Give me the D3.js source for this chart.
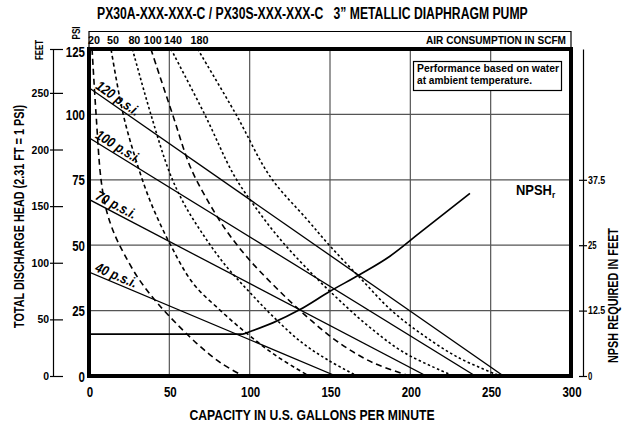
<!DOCTYPE html>
<html lang="en">
<head>
<meta charset="UTF-8">
<title>PX30 3" Metallic Diaphragm Pump</title>
<style>
    body { margin: 0; background: #fff; }
    svg text { font-family: "Liberation Sans Narrow", "Arial Narrow", "Liberation Sans", Arial, sans-serif; font-weight: bold; fill: #000; }
</style>
</head>
<body>
<svg id="chart" width="627" height="423"></svg>
<script src="https://d3js.org/d3.v7.min.js"></script>
<script>
    // axis ticks
    const flowTicks = [0, 50, 100, 150, 200, 250, 300];
    const psiTicks = [0, 25, 50, 75, 100, 125];
    const feetTicks = [0, 50, 100, 150, 200, 250];
    const npshTicks = [0, 12.5, 25, 37.5];

    // air pressure lines (psi): head at zero flow, flow at zero head
    const airPressure = [120, 100, 70, 40];
    const shutoffHead = [110.2, 91.1, 67.5, 39.7];
    const maxFlow = [258, 240.5, 210, 153.7];

    // air consumption curves (SCFM), points as [gpm, psi]
    const scfmLabels = [20, 50, 80, 100, 140, 180];
    const scfm20 = [[1.9, 125], [4.4, 100], [7.5, 75], [11, 63], [16, 54], [22, 46.5], [30, 38], [39, 30.5], [49, 23.5], [67, 12.5], [82, 5], [96, 0]];
    const scfm50 = [[13.7, 125], [21.3, 100], [29, 83], [38, 67], [50, 51], [64.7, 35.5], [81.5, 25.2], [98, 16.4], [117, 7.5], [137, 0]];
    const scfm80 = [[27, 125], [38.5, 100], [50, 78], [59, 66], [70, 55], [84, 43], [100, 32], [115, 22.5], [132, 13], [149, 6], [167, 0]];
    const scfm100 = [[38.5, 125], [52, 100], [63, 80], [73, 68], [85, 56], [99, 45], [116, 34], [135, 23], [155, 13], [177, 5], [200, 0]];
    const scfm140 = [[51, 125], [72, 100], [90, 77], [103, 65], [118, 53], [135, 41.5], [154, 30], [174, 19], [196, 9], [227, 0]];
    const scfm180 = [[67.6, 125], [91.5, 100], [113, 76], [135.5, 60], [150, 49.7], [168.6, 37.6], [187.3, 25.6], [206, 16.5], [230, 7], [256, 0]];
    const scfmCurves = [scfm20, scfm50, scfm80, scfm100, scfm140, scfm180];
    const scfmDash = ["6,4", "4,3", "2.5,2.5", "6,4", "2.5,2.5", "2.5,2.5"];

    // NPSH required, [gpm, feet]
    const npshCurve = [[0, 8], [95.6, 8], [100.2, 8.5], [114.7, 10.2], [131.3, 12.7], [150, 16.2], [168.6, 19.4], [187.3, 22.9], [206, 27.4], [237.1, 34.9]];

    const svg = d3.select("#chart");

    const x = d3.scaleLinear().domain([0, 300]).range([89, 571]);
    const y = d3.scaleLinear().domain([0, 125]).range([376, 49]);
    const yFeet = d3.scaleLinear().domain([0, 125 * 2.31]).range([376, 49]);
    const yNpsh = d3.scaleLinear().domain([0, 62.5]).range([376, 49]);

    function txt(g, px, py, s, size, len, anchor) {
        const t = g.append("text")
            .attr("x", px).attr("y", py)
            .attr("font-size", size)
            .attr("text-anchor", anchor || "start")
            .text(s);
        if (len) t.attr("textLength", len).attr("lengthAdjust", "spacingAndGlyphs");
        return t;
    }

    // squeeze a text horizontally to a given width
    function squeezed(g, px, py, s, size, width) {
        const t = g.append("text")
            .attr("font-size", size)
            .style("white-space", "pre")
            .text(s);
        const w = t.node().getComputedTextLength();
        t.attr("transform", `translate(${px},${py}) scale(${width / w},1)`);
        return t;
    }

    // title
    squeezed(svg, 97, 19, "PX30A-XXX-XXX-C / PX30S-XXX-XXX-C   3\u201D METALLIC DIAPHRAGM PUMP", 16, 431);

    // clip for plot
    svg.append("clipPath").attr("id", "plot-clip")
        .append("rect")
        .attr("x", x(0)).attr("y", y(125))
        .attr("width", x(300) - x(0)).attr("height", y(0) - y(125));

    // grid
    const grid = svg.append("g");
    grid.selectAll(".vg")
        .data(flowTicks.slice(1, -1))
        .enter().append("line")
        .attr("x1", d => x(d)).attr("x2", d => x(d))
        .attr("y1", y(125)).attr("y2", y(0))
        .attr("stroke", "#555").attr("stroke-width", 1.2);
    grid.selectAll(".hg")
        .data(psiTicks.slice(1, -1))
        .enter().append("line")
        .attr("x1", x(0)).attr("x2", x(300))
        .attr("y1", d => y(d)).attr("y2", d => y(d))
        .attr("stroke", "#555").attr("stroke-width", 1.2);

    const plot = svg.append("g").attr("clip-path", "url(#plot-clip)");

    // air consumption curves
    const curveLine = d3.line()
        .x(d => x(d[0])).y(d => y(d[1]))
        .curve(d3.curveCatmullRom.alpha(0.5));
    scfmCurves.forEach((c, i) => {
        plot.append("path")
            .attr("d", curveLine(c))
            .attr("fill", "none")
            .attr("stroke", "#000")
            .attr("stroke-width", 1.6)
            .attr("stroke-dasharray", scfmDash[i]);
    });

    // air pressure lines
    const straight = d3.line().x(d => x(d[0])).y(d => y(d[1]));
    airPressure.forEach((p, i) => {
        plot.append("path")
            .attr("d", straight([[0, shutoffHead[i]], [maxFlow[i], 0]]))
            .attr("fill", "none")
            .attr("stroke", "#000")
            .attr("stroke-width", 1.3);

        const x0 = x(2.5), y0 = y(shutoffHead[i] * (1 - 2.5 / maxFlow[i]));
        const ang = Math.atan2(y(0) - y(shutoffHead[i]), x(maxFlow[i]) - x(0)) * 180 / Math.PI;
        svg.append("text")
            .attr("transform", `translate(${x0},${y0}) rotate(${ang})`)
            .attr("y", -3)
            .attr("font-size", 14)
            .attr("font-style", "italic")
            .attr("textLength", p >= 100 ? 50 : 44)
            .attr("lengthAdjust", "spacingAndGlyphs")
            .text(`${p} p.s.i.`);
    });

    // NPSH required
    const npshLine = d3.line()
        .x(d => x(d[0])).y(d => yNpsh(d[1]))
        .curve(d3.curveMonotoneX);
    plot.append("path")
        .attr("d", npshLine(npshCurve))
        .attr("fill", "none")
        .attr("stroke", "#000")
        .attr("stroke-width", 1.7);

    // legend box
    svg.append("rect")
        .attr("x", 413.5).attr("y", 61.5).attr("width", 148).attr("height", 29)
        .attr("fill", "#fff").attr("stroke", "#000").attr("stroke-width", 1.2);
    txt(svg, 417, 72, "Performance based on water", 11, 142);
    txt(svg, 417, 84, "at ambient temperature.", 11, 115);

    // NPSHr label
    const nl = squeezed(svg, 516, 195, "NPSH", 14, 36);
    nl.append("tspan").attr("dy", 3).attr("font-size", 9).text("r");

    // frame
    svg.append("rect")
        .attr("x", x(0)).attr("y", y(125))
        .attr("width", x(300) - x(0)).attr("height", y(0) - y(125))
        .attr("fill", "none").attr("stroke", "#000").attr("stroke-width", 4);

    // top SCFM strip
    svg.append("path")
        .attr("d", `M${x(0)},${y(125)}V31.5H${x(300)}V${y(125)}`)
        .attr("fill", "none").attr("stroke", "#000").attr("stroke-width", 1.2);
    scfmLabels.forEach((s, i) => {
        txt(svg, x(scfmCurves[i][0][0]) + 2, 43.5, String(s), 11, String(s).length * 6, "middle");
    });
    txt(svg, 566, 43.5, "AIR CONSUMPTION IN SCFM", 11, 140, "end");
    svg.append("text")
        .attr("transform", "translate(80,33) rotate(-90)")
        .attr("text-anchor", "middle")
        .attr("font-size", 10)
        .attr("textLength", 13).attr("lengthAdjust", "spacingAndGlyphs")
        .text("PSI");

    // main PSI labels
    psiTicks.forEach(v => {
        txt(svg, 85, Math.max(y(v) + 5.5, y(125) + 7.5), String(v), 15, String(v).length * 6.4, "end");
    });

    // flow labels
    flowTicks.forEach(v => {
        txt(svg, x(v) + 1, 397, String(v), 15, String(v).length * 6.4, "middle");
    });
    txt(svg, 312, 420, "CAPACITY IN U.S. GALLONS PER MINUTE", 15, 245, "middle");

    // feet axis
    const feetAxis = d3.axisLeft(yFeet)
        .tickValues(feetTicks.concat([125 * 2.31]))
        .tickSizeInner(-10).tickSizeOuter(0).tickPadding(4)
        .tickFormat(d => d > 260 ? "" : d);
    const fa = svg.append("g").attr("transform", "translate(53,0)").call(feetAxis);
    fa.attr("font-family", null).attr("font-size", null);
    fa.select(".domain").attr("stroke", "#000").attr("stroke-width", 1.2);
    fa.selectAll(".tick line").attr("x1", -3).attr("stroke-width", 1.2);
    fa.selectAll(".tick text")
        .attr("font-size", 11)
        .attr("textLength", d => d > 260 ? null : String(d).length * 5.8)
        .attr("lengthAdjust", "spacingAndGlyphs");

    svg.append("text")
        .attr("transform", "translate(43,50) rotate(-90)")
        .attr("text-anchor", "middle")
        .attr("font-size", 10)
        .attr("textLength", 20).attr("lengthAdjust", "spacingAndGlyphs")
        .text("FEET");

    svg.append("text")
        .attr("transform", "translate(23.5,216.5) rotate(-90)")
        .attr("text-anchor", "middle")
        .attr("font-size", 14)
        .attr("textLength", 223).attr("lengthAdjust", "spacingAndGlyphs")
        .text("TOTAL DISCHARGE HEAD (2.31 FT = 1 PSI)");

    // NPSH axis
    const npshAxis = d3.axisRight(yNpsh)
        .tickValues(npshTicks)
        .tickFormat(d => String(d))
        .tickSizeInner(4).tickSizeOuter(0).tickPadding(1);
    const na = svg.append("g").attr("transform", "translate(583,0)").call(npshAxis);
    na.attr("font-family", null).attr("font-size", null);
    na.select(".domain").attr("stroke", "#000").attr("stroke-width", 1.2);
    na.selectAll(".tick line").attr("x1", -4).attr("stroke-width", 1.2);
    na.selectAll(".tick text")
        .attr("font-size", 10)
        .attr("textLength", d => String(d).length * 4.3)
        .attr("lengthAdjust", "spacingAndGlyphs");

    svg.append("text")
        .attr("transform", "translate(618,295.5) rotate(-90)")
        .attr("text-anchor", "middle")
        .attr("font-size", 14)
        .attr("textLength", 135).attr("lengthAdjust", "spacingAndGlyphs")
        .text("NPSH REQUIRED IN FEET");
</script>
</body>
</html>
